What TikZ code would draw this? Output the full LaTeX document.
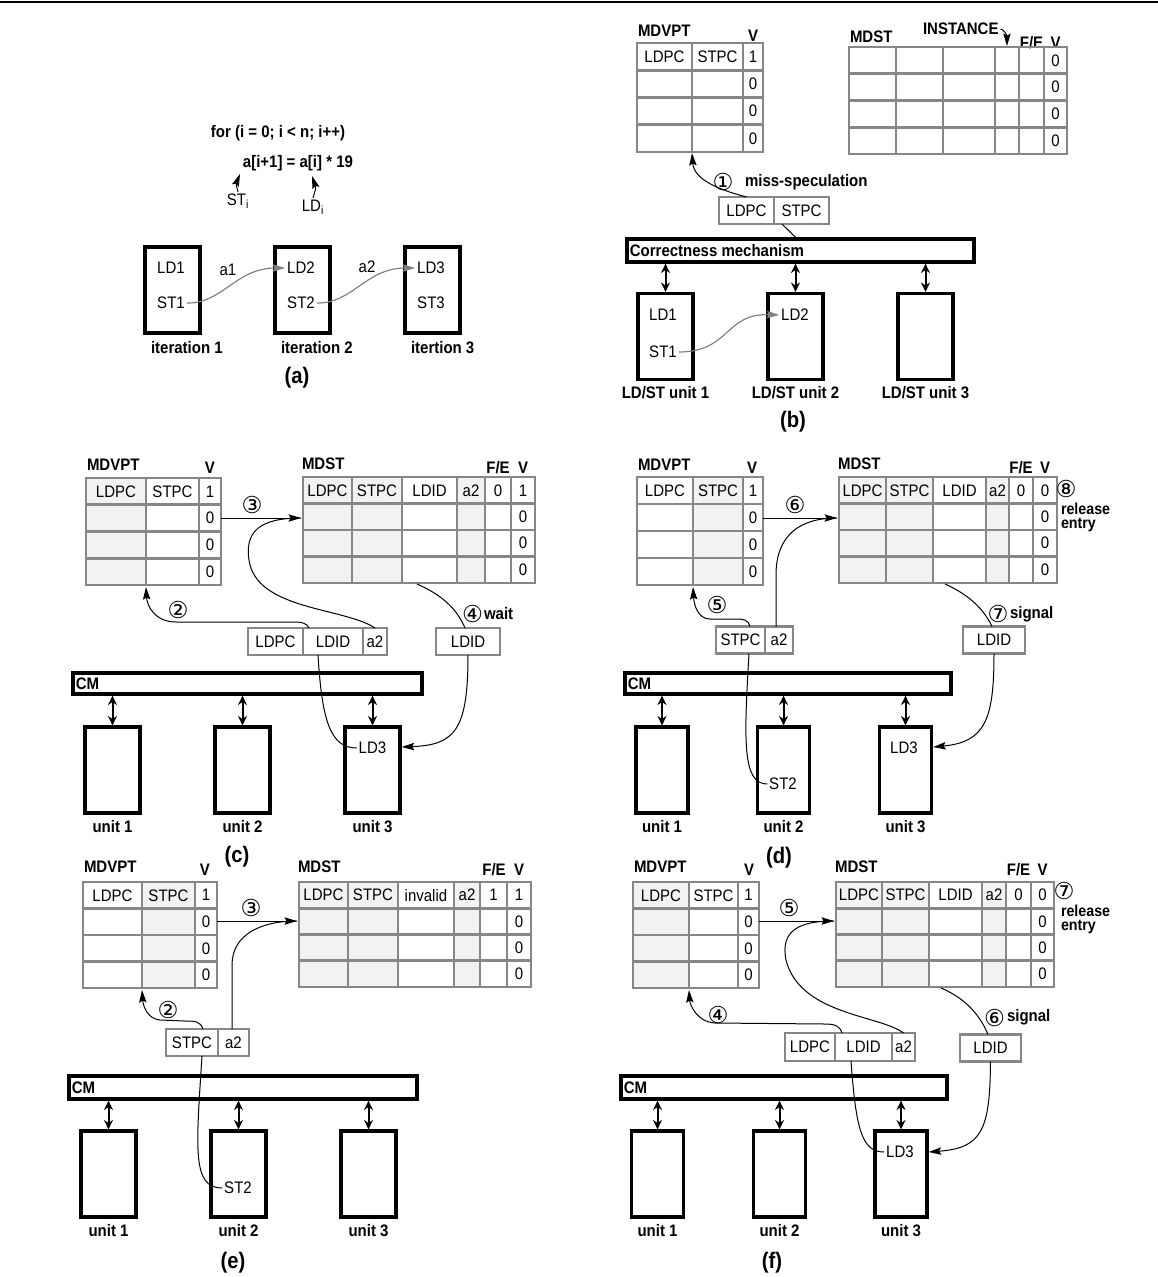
\documentclass[tikz,border=0pt]{standalone}
\usepackage{fontspec}
\setmainfont{Liberation Sans}[FakeStretch=0.9]
\newfontfamily\circfont{DejaVu Sans}
\usepackage{xcolor}
\usetikzlibrary{arrows.meta, positioning, calc}

\definecolor{tblgray}{gray}{0.53}
\definecolor{cellgray}{gray}{0.95}
\definecolor{depgray}{gray}{0.5}

% table grid: left, right, top, bottom, inner column lines (4 rows)
\newcommand{\gridtable}[5]{%
  \draw[tbl] (#1,#3) rectangle (#2,#4);
  \foreach \cx in {#5} \draw[tbl] (\cx,#3) -- (\cx,#4);
  \foreach \k in {1,2,3} \draw[tbl] (#1,{#3+\k*(#4-#3)/4}) -- (#2,{#3+\k*(#4-#3)/4});
}

\begin{document}
\begin{tikzpicture}[x=0.6pt, y=-0.6pt, >={Stealth[length=7.5pt,width=4.4pt,inset=1.2pt]},
  every node/.style={font=\normalsize, inner sep=1pt},
  lbl/.style={font=\bfseries},
  caption/.style={font=\bfseries\fontsize{13.5}{15}\selectfont},
  num/.style={font=\circfont\fontsize{14}{15}\selectfont, inner sep=0pt},
  relbl/.style={font=\bfseries\fontsize{9.5}{8.1}\selectfont, align=left, anchor=north west},
  tbl/.style={draw=tblgray, line width=1.6pt},
  cellbox/.style={draw=tblgray, line width=1.6pt, fill=white, minimum height=16.2pt, inner sep=0pt, outer sep=0pt},
  unitbox/.style={draw, line width=2pt, minimum width=33pt, minimum height=51.6pt},
  bar/.style={draw, line width=2pt, minimum height=13pt, inner sep=0pt},
  dbl/.style={{Stealth[length=5.6pt,width=5.4pt]}-{Stealth[length=5.6pt,width=5.4pt]}, line width=1.2pt},
  wire/.style={line width=0.6pt},
  dep/.style={->, color=depgray, line width=0.7pt}]

\useasboundingbox (0,0) rectangle (1158,1277);

% top rule
\coordinate (topl) at (0,1.5);
\coordinate (topr) at (1158,1.5);
\draw[line width=1.2pt] (topl) -- (topr);

% (a) loop and iterations
\node[lbl] (a-for) at (278,133) {for (i = 0; i < n; i++)};
\node[lbl] (a-body) at (298,163) {a[i+1] = a[i] * 19};
\node (a-sti) at (238,201) {ST\textsubscript{i}};
\node (a-ldi) at (313,207) {LD\textsubscript{i}};
\coordinate (a-st) at (240,174);
\coordinate (a-ld) at (312,176);
\draw[wire, ->] (a-sti.north) .. controls (236,184) .. (a-st);
\draw[wire, ->] (a-ldi.north) .. controls (316,188) .. (a-ld);

\node[unitbox] (a-it1) at (172.5,290) {};
\node[unitbox] (a-it2) at (302.5,290) {};
\node[unitbox] (a-it3) at (432.5,290) {};
\node (a-ld1) at (171,268) {LD1};
\node (a-st1) at (171,303) {ST1};
\node (a-ld2) at (301,268) {LD2};
\node (a-st2) at (301,303) {ST2};
\node (a-ld3) at (431,268) {LD3};
\node (a-st3) at (431,303) {ST3};
\node[lbl, anchor=west] (a-lab1) at (149,348) {iteration 1};
\node[lbl, anchor=west] (a-lab2) at (279,348) {iteration 2};
\node[lbl, anchor=west] (a-lab3) at (409,348) {itertion 3};

\draw[dep] (a-st1.east) .. controls (222,304) and (236,268) .. (a-ld2.west);
\node (a-a1) at (228,270) {a1};
\draw[dep] (a-st2.east) .. controls (352,304) and (366,268) .. (a-ld3.west);
\node (a-a2) at (367,267) {a2};
\node[caption] (a-cap) at (297,378) {(a)};

% (b) MDVPT
\node[lbl, anchor=west] (b-mdvpt) at (636,31) {MDVPT};
\node[lbl] (b-vh) at (753,36) {V};
\gridtable{637}{763}{43}{152}{692,743}
\node (b-p1) at (664.5,56.6) {LDPC};
\node (b-p2) at (717.5,56.6) {STPC};
\foreach \v [count=\k] in {1,0,0,0} \node (b-pv\k) at (753,{43+(\k-0.5)*27.25}) {\v};

% (b) MDST
\node[lbl, anchor=west] (b-mdst) at (848,36.5) {MDST};
\node[lbl, anchor=west] (b-inst) at (921,29) {INSTANCE};
\node[lbl] (b-fe) at (1031.5,43) {F/E};
\node[lbl] (b-vh2) at (1055.5,43) {V};
\gridtable{849}{1067}{47}{154}{896,943,995,1019,1044}
\foreach \k in {1,...,4} \node (b-sv\k) at (1055.5,{47+(\k-0.5)*26.75}) {0};
\coordinate (b-col4) at (1007,46);
\draw[wire, ->] (b-inst.east) .. controls (1003,29) and (1007,35) .. (b-col4);

% (b) miss-speculation
\node[num] (b-n1) at (723,182) {①};
\node[lbl, anchor=west] (b-miss) at (743,182) {miss-speculation};
\node[cellbox, minimum width=33pt] (b-q1) at (746.5,210.5) {LDPC};
\node[cellbox, minimum width=33pt, right=0pt of b-q1] (b-q2) {STPC};
\coordinate (b-mtip) at (692,153);
\draw[wire, ->] (b-q1.north) .. controls (720,190) and (694,180) .. (b-mtip);

% (b) correctness mechanism and units
\node[bar, minimum width=208.2pt, minimum height=13.8pt] (b-cm) at (800.5,250.5) {};
\node[lbl, anchor=west] (b-cmt) at ([xshift=1.5pt]b-cm.west) {Correctness mechanism};
\coordinate (b-qb) at (782,224);
\node[unitbox] (b-u1) at (665.5,336.5) {};
\node[unitbox] (b-u2) at (795.5,336.5) {};
\node[unitbox] (b-u3) at (925.5,336.5) {};
\draw[wire] (b-qb) -- (b-cm.north -| b-u2.north);
\foreach \u in {1,2,3} \draw[dbl] (b-cm.south -| b-u\u.north) -- (b-u\u.north);
\node[lbl, below=2pt of b-u1] (b-l1) {LD/ST unit 1};
\node[lbl, below=2pt of b-u2] (b-l2) {LD/ST unit 2};
\node[lbl, below=2pt of b-u3] (b-l3) {LD/ST unit 3};
\node (b-ld1) at (663,315) {LD1};
\node (b-st1) at (663,352) {ST1};
\node (b-ld2) at (795,315) {LD2};
\draw[dep] (b-st1.east) .. controls (730,352) and (725,313) .. (b-ld2.west);
\node[caption] (b-cap) at (793,422) {(b)};

% (c) MDVPT
\node[lbl, anchor=west] (c-mdvpt) at (85,465) {MDVPT};
\node[lbl] (c-vh) at (210,468) {V};
\fill[cellgray] (86,478) rectangle (146,585);
\gridtable{86}{221}{478}{585}{146,199}
\node (c-p1) at (116,491.4) {LDPC};
\node (c-p2) at (172.5,491.4) {STPC};
\foreach \v [count=\k] in {1,0,0,0} \node (c-pv\k) at (210,{478+(\k-0.5)*26.75}) {\v};

% (c) MDST
\node[lbl, anchor=west] (c-mdst) at (300,463.5) {MDST};
\node[lbl] (c-fe) at (498,468) {F/E};
\node[lbl] (c-vh2) at (523,468) {V};
\fill[cellgray] (303,477) rectangle (402,583) (457,477) rectangle (485,583);
\gridtable{303}{535}{477}{583}{352,402,457,485,511}
\foreach \t/\cx [count=\k] in {LDPC/327.5, STPC/377, LDID/429.5, a2/471, 0/498, 1/523}
  \node (c-s\k) at (\cx,490.3) {\t};
\foreach \k in {2,3,4} \node (c-sv\k) at (523,{477+(\k-0.5)*26.5}) {0};

% (c) insertion
\coordinate (c-out) at (221,518);
\coordinate (c-in) at (301,518);
\draw[wire, ->] (c-out) -- (c-in);
\node[num] (c-n3) at (252,505) {③};
\node[cellbox, minimum width=33pt] (c-q1) at (275.5,641.5) {LDPC};
\node[cellbox, minimum width=36pt, right=0pt of c-q1] (c-q2) {LDID};
\node[cellbox, minimum width=14.4pt, right=0pt of c-q2] (c-q3) {a2};
\draw[wire] (c-q3.north) .. controls (345,608) and (262,610) .. (250,565)
  .. controls (242,530) and (262,518) .. (c-in);
\coordinate (c-ptip) at (146,587);
\draw[wire, ->] ([xshift=3.6pt]c-q2.north west) .. controls (307,623) and (302,622) .. (292,622)
  -- (176,622) .. controls (155,622) and (147,606) .. (c-ptip);
\node[num] (c-n2) at (178,610) {②};

% (c) wait
\node[cellbox, minimum width=38.4pt] (c-w) at (468,641.5) {LDID};
\coordinate (c-sb) at (417,584);
\draw[wire] (c-sb) .. controls (435,592) and (455,604) .. ([xshift=-1.8pt]c-w.north);
\node[num] (c-n4) at (472.5,614) {④};
\node[lbl, anchor=west] (c-wait) at (482,614) {wait};

% (c) CM and units
\node[bar, minimum width=209.4pt, minimum height=12.6pt] (c-cm) at (247.5,683.5) {};
\node[lbl, anchor=west] (c-cmt) at ([xshift=1.5pt]c-cm.west) {CM};
\node[unitbox] (c-u1) at (112.5,770) {};
\node[unitbox] (c-u2) at (242.5,770) {};
\node[unitbox] (c-u3) at (372.5,770) {};
\foreach \u in {1,2,3} {
  \draw[dbl] (c-cm.south -| c-u\u.north) -- (c-u\u.north);
  \node[lbl, below=2pt of c-u\u] (c-l\u) {unit \u};
}
\node (c-ld3) at (372.5,748) {LD3};
\draw[wire] ([xshift=-9pt]c-q2.south) .. controls (322,720) and (330,748) .. (c-ld3.west);
\draw[wire, ->] (c-w.south) .. controls (468,730) and (455,745) .. ([yshift=13.8pt]c-u3.east);
\node[caption] (c-cap) at (237,857) {(c)};

% (d) MDVPT
\node[lbl, anchor=west] (d-mdvpt) at (636,465) {MDVPT};
\node[lbl] (d-vh) at (752,468) {V};
\fill[cellgray] (693,477) rectangle (743,585);
\gridtable{637}{763}{477}{585}{693,743}
\node (d-p1) at (665,490.5) {LDPC};
\node (d-p2) at (718,490.5) {STPC};
\foreach \v [count=\k] in {1,0,0,0} \node (d-pv\k) at (753,{477+(\k-0.5)*27}) {\v};

% (d) MDST
\node[lbl, anchor=west] (d-mdst) at (836,463.5) {MDST};
\node[lbl] (d-fe) at (1021,468) {F/E};
\node[lbl] (d-vh2) at (1045,468) {V};
\fill[cellgray] (839,477) rectangle (933,583) (986,477) rectangle (1009,583);
\gridtable{839}{1057}{477}{583}{886,933,986,1009,1033}
\foreach \t/\cx [count=\k] in {LDPC/862.5, STPC/909.5, LDID/959.5, a2/997.5, 0/1021, 0/1045}
  \node (d-s\k) at (\cx,490.3) {\t};
\foreach \k in {2,3,4} \node (d-sv\k) at (1045,{477+(\k-0.5)*26.5}) {0};
\node[num] (d-n8) at (1066,488.5) {⑧};
\node[relbl] (d-rel) at (1059,501.5) {release\\entry};

% (d) store arrives
\coordinate (d-out) at (763,518);
\coordinate (d-in) at (837,518);
\draw[wire, ->] (d-out) -- (d-in);
\node[num] (d-n6) at (795,505) {⑥};
\node[cellbox, minimum width=29.4pt] (d-q1) at (740.5,640) {STPC};
\node[cellbox, minimum width=16.8pt, right=0pt of d-q1] (d-q2) {a2};
\draw[wire] ([xshift=-1.8pt]d-q2.north) -- (776,575) .. controls (776,535) and (800,518) .. (d-in);
\coordinate (d-ptip) at (693,587);
\draw[wire, ->] ([xshift=5.7pt]d-q1.north) .. controls (748,620) and (745,619) .. (735,619)
  -- (710,619) .. controls (698,619) and (694,605) .. (d-ptip);
\node[num] (d-n5) at (717,605) {⑤};

% (d) signal
\node[cellbox, minimum width=37.2pt] (d-w) at (994,640) {LDID};
\coordinate (d-sb) at (945,584);
\draw[wire] (d-sb) .. controls (963,592) and (982,605) .. ([xshift=-1.2pt]d-w.north);
\node[num] (d-n7) at (998,614) {⑦};
\node[lbl, anchor=west] (d-sig) at (1008,614) {signal};

% (d) CM and units
\node[bar, minimum width=195.6pt, minimum height=12.6pt] (d-cm) at (788,683.5) {};
\node[lbl, anchor=west] (d-cmt) at ([xshift=1.5pt]d-cm.west) {CM};
\node[unitbox, minimum width=31.2pt] (d-u1) at (662,770) {};
\node[unitbox, minimum width=31.2pt] (d-u2) at (783.5,770) {};
\node[unitbox, minimum width=31.2pt] (d-u3) at (905.5,770) {};
\foreach \u in {1,2,3} {
  \draw[dbl] (d-cm.south -| d-u\u.north) -- (d-u\u.north);
  \node[lbl, below=2pt of d-u\u] (d-l\u) {unit \u};
}
\node (d-st2) at (783,784) {ST2};
\node (d-ld3) at (904,748) {LD3};
\draw[wire] ([xshift=5.1pt]d-q1.south) .. controls (744,740) and (742,784) .. (d-st2.west);
\draw[wire, ->] (d-w.south) .. controls (994,720) and (985,742) .. ([yshift=13.8pt]d-u3.east);
\node[caption] (d-cap) at (779,858) {(d)};

% (e) MDVPT
\node[lbl, anchor=west] (e-mdvpt) at (82,867) {MDVPT};
\node[lbl] (e-vh) at (205,870) {V};
\fill[cellgray] (142,882) rectangle (195,988);
\gridtable{83}{217}{882}{988}{142,195}
\node (e-p1) at (112.5,895.3) {LDPC};
\node (e-p2) at (168.5,895.3) {STPC};
\foreach \v [count=\k] in {1,0,0,0} \node (e-pv\k) at (206,{882+(\k-0.5)*26.5}) {\v};

% (e) MDST
\node[lbl, anchor=west] (e-mdst) at (296,867) {MDST};
\node[lbl] (e-fe) at (494,870) {F/E};
\node[lbl] (e-vh2) at (519,870) {V};
\fill[cellgray] (299,882) rectangle (398,987) (454,882) rectangle (480,987);
\gridtable{299}{531}{882}{987}{348,398,454,480,507}
\foreach \t/\cx [count=\k] in {LDPC/323.5, STPC/373, invalid/426, a2/467, 1/493.5, 1/519}
  \node (e-s\k) at (\cx,895.1) {\t};
\foreach \k in {2,3,4} \node (e-sv\k) at (519,{882+(\k-0.5)*26.25}) {0};

% (e) store finds no load
\coordinate (e-out) at (217,921);
\coordinate (e-in) at (297,921);
\draw[wire, ->] (e-out) -- (e-in);
\node[num] (e-n3) at (251,908) {③};
\node[cellbox, minimum width=31.2pt] (e-q1) at (192,1042.5) {STPC};
\node[cellbox, minimum width=18.6pt, right=0pt of e-q1] (e-q2) {a2};
\draw[wire] ([xshift=-0.9pt]e-q2.north) -- (232,965) .. controls (232,935) and (260,921) .. (e-in);
\coordinate (e-ptip) at (142,990);
\draw[wire, ->] ([xshift=6.6pt]e-q1.north) .. controls (200,1021) and (195,1021) .. (185,1021)
  -- (160,1020) .. controls (147,1019) and (143,1005) .. (e-ptip);
\node[num] (e-n2) at (168,1010) {②};

% (e) CM and units
\node[bar, minimum width=208.8pt, minimum height=13.8pt] (e-cm) at (243,1087.5) {};
\node[lbl, anchor=west] (e-cmt) at ([xshift=1.5pt]e-cm.west) {CM};
\node[unitbox] (e-u1) at (108.5,1174) {};
\node[unitbox] (e-u2) at (238.5,1174) {};
\node[unitbox] (e-u3) at (368.5,1174) {};
\foreach \u in {1,2,3} {
  \draw[dbl] (e-cm.south -| e-u\u.north) -- (e-u\u.north);
  \node[lbl, below=2pt of e-u\u] (e-l\u) {unit \u};
}
\node (e-st2) at (238,1188) {ST2};
\draw[wire] ([xshift=6pt]e-q1.south) .. controls (196,1150) and (192,1188) .. (e-st2.west);
\node[caption] (e-cap) at (233,1263) {(e)};

% (f) MDVPT
\node[lbl, anchor=west] (f-mdvpt) at (632,867) {MDVPT};
\node[lbl] (f-vh) at (749,870) {V};
\fill[cellgray] (633,882) rectangle (689,988);
\gridtable{633}{759}{882}{988}{689,738}
\node (f-p1) at (661,895.3) {LDPC};
\node (f-p2) at (713.5,895.3) {STPC};
\foreach \v [count=\k] in {1,0,0,0} \node (f-pv\k) at (748.5,{882+(\k-0.5)*26.5}) {\v};

% (f) MDST
\node[lbl, anchor=west] (f-mdst) at (833,867) {MDST};
\node[lbl] (f-fe) at (1018.5,870) {F/E};
\node[lbl] (f-vh2) at (1042.5,870) {V};
\fill[cellgray] (836,882) rectangle (929,987) (982,882) rectangle (1006,987);
\gridtable{836}{1054}{882}{987}{882,929,982,1006,1031}
\foreach \t/\cx [count=\k] in {LDPC/859, STPC/905.5, LDID/955.5, a2/994, 0/1018.5, 0/1042.5}
  \node (f-s\k) at (\cx,895.1) {\t};
\foreach \k in {2,3,4} \node (f-sv\k) at (1042.5,{882+(\k-0.5)*26.25}) {0};
\node[num] (f-n7) at (1064,890.5) {⑦};
\node[relbl] (f-rel) at (1059,903.5) {release\\entry};

% (f) load arrives
\coordinate (f-out) at (759,921);
\coordinate (f-in) at (834,921);
\draw[wire, ->] (f-out) -- (f-in);
\node[num] (f-n5) at (789,908) {⑤};
\node[cellbox, minimum width=30pt, minimum height=16.8pt] (f-q1) at (810,1047) {LDPC};
\node[cellbox, minimum width=34.2pt, minimum height=16.8pt, right=0pt of f-q1] (f-q2) {LDID};
\node[cellbox, minimum width=13.8pt, minimum height=16.8pt, right=0pt of f-q2] (f-q3) {a2};
\draw[wire] (f-q3.north) .. controls (880,1015) and (800,1015) .. (786,960)
  .. controls (780,930) and (800,921) .. (f-in);
\coordinate (f-ptip) at (689,990);
\draw[wire, ->] ([xshift=4.2pt]f-q2.north west) .. controls (840,1026) and (835,1024) .. (825,1024)
  -- (715,1023) .. controls (697,1022) and (690,1005) .. (f-ptip);
\node[num] (f-n4) at (718,1015) {④};

% (f) signal
\node[cellbox, minimum width=36.6pt] (f-w) at (990.5,1048) {LDID};
\coordinate (f-sb) at (941,988);
\draw[wire] (f-sb) .. controls (960,996) and (978,1010) .. ([xshift=-1.5pt]f-w.north);
\node[num] (f-n6) at (994.5,1017.5) {⑥};
\node[lbl, anchor=west] (f-sig) at (1005,1017.5) {signal};

% (f) CM and units
\node[bar, minimum width=195.6pt, minimum height=13.8pt] (f-cm) at (784,1087.5) {};
\node[lbl, anchor=west] (f-cmt) at ([xshift=1.5pt]f-cm.west) {CM};
\node[unitbox, minimum width=31.2pt] (f-u1) at (657.5,1174) {};
\node[unitbox, minimum width=31.2pt] (f-u2) at (779.5,1174) {};
\node[unitbox, minimum width=31.2pt] (f-u3) at (901,1174) {};
\foreach \u in {1,2,3} {
  \draw[dbl] (f-cm.south -| f-u\u.north) -- (f-u\u.north);
  \node[lbl, below=2pt of f-u\u] (f-l\u) {unit \u};
}
\node (f-ld3) at (900,1152) {LD3};
\draw[wire] ([xshift=-7.5pt]f-q2.south) .. controls (856,1130) and (862,1152) .. (f-ld3.west);
\draw[wire, ->] (f-w.south) .. controls (990,1130) and (982,1148) .. ([yshift=13.2pt]f-u3.east);
\node[caption] (f-cap) at (772,1263) {(f)};

\end{tikzpicture}
\end{document}
